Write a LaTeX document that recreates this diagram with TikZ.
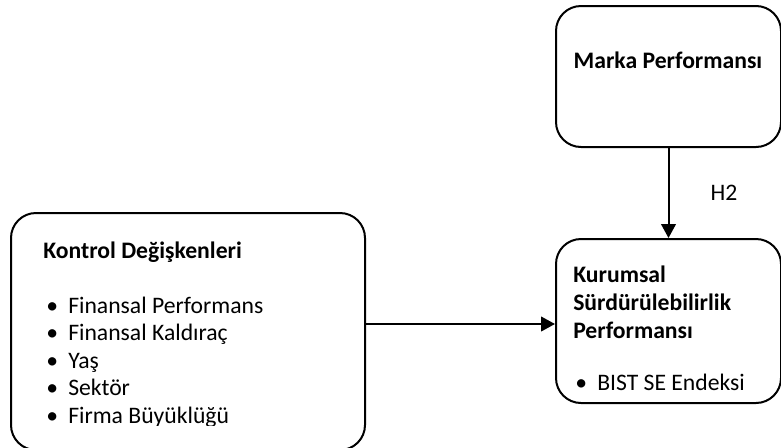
\documentclass[tikz,border=0pt]{standalone}
\usepackage{fontspec}
\setmainfont{Carlito}
\usetikzlibrary{arrows.meta,positioning}

\newcommand{\diagfont}{\fontsize{17.75}{21}\selectfont}
\newcommand{\blt}{\makebox[16.5pt][l]{\textbullet}}

\tikzset{
  panel/.style    = {shape=rectangle, rounded corners=18.75pt,
                     draw, line width=1.5pt, anchor=north west, inner sep=0pt},
  heading/.style  = {font=\diagfont\bfseries, anchor=base west, inner sep=0pt},
  listitem/.style = {font=\diagfont, anchor=base west, inner sep=0pt},
  link/.style     = {draw, line width=1.5pt, -{Triangle[length=10.5pt,width=11pt]}}
}

\begin{document}
\begin{tikzpicture}
[
x=0.75pt, y=-0.75pt
  ]
\useasboundingbox (0,0) rectangle (781,447);

% boxes
\node[panel, minimum width=265.5pt, minimum height=177.75pt] (kontrol) at (10,212) {};
\node[panel, minimum width=168.75pt, minimum height=105.75pt] (marka) at (555,5) {};
\node[panel, minimum width=168.75pt, minimum height=123pt] (kurumsal) at (555,238) {};

% texts
\node[heading, anchor=base] (marka-title) at (668,68) {Marka Performansı};
\node[heading] (kontrol-title) at (43,258) {Kontrol Değişkenleri};
\begin{scope}
\clip (0,0) rectangle (781,425);
\foreach \txt [count=\i] in {Finansal Performans, Finansal Kaldıraç, Yaş, Sektör, Firma Büyüklüğü}
  \node[listitem] (kontrol-\i) at (46,285.5+27.5*\i) {\blt\txt};
\end{scope}
% base of a multi-line node is its last line
\node[heading, align=left] (kurumsal-title) at (573,338)
  {Kurumsal\\Sürdürülebilirlik\\Performansı};
\node[listitem] (kurumsal-item) at (575,390) {\blt BIST SE Endeksi};
\node[listitem, anchor=base] (h2) at (724,200) {H2};

% connectors
\draw[link] (marka) -- (kurumsal);
\draw[link] (kontrol.east |- kurumsal.west) ++(0,3) -- ([yshift=-2.25pt]kurumsal.west);
\end{tikzpicture}
\end{document}
